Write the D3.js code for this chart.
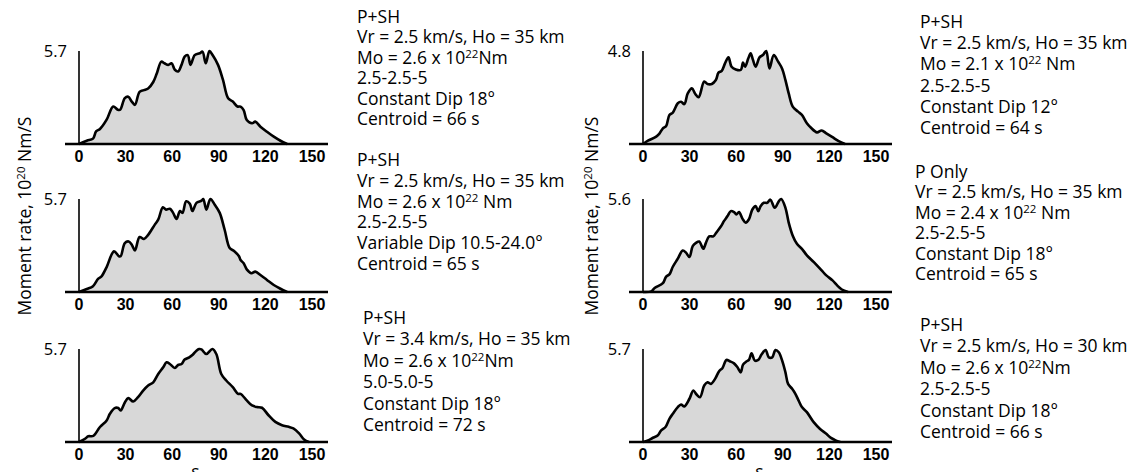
<!DOCTYPE html>
<html>
<head>
<meta charset="utf-8">
<script src="https://cdn.jsdelivr.net/npm/d3@7"></script>
<style>
  body { margin: 0; background: #fff; }
  svg { display: block; }
  .tick-label { font-family: "Liberation Sans", Arial, sans-serif; font-weight: bold; font-size: 16px; }
  .caption { font-family: "Open Sans", "Noto Sans", sans-serif; font-size: 17.5px; }
  .peak { font-family: "Open Sans", "Noto Sans", sans-serif; font-size: 16.5px; }
  .ylab { font-family: "Open Sans", "Noto Sans", sans-serif; font-size: 17.5px; }
</style>
</head>
<body>
<div id="chart"></div>
<script>
var canvas_width = 1134,
    canvas_height = 472;

// x ticks (seconds)
var xTicks = [0, 30, 60, 90, 120, 150];

// y maxima shown at the top of each axis
var peakLabels = ["5.7", "5.7", "5.7", "4.8", "5.6", "5.7"];
var peakValues = [5.7, 5.7, 5.7, 4.8, 5.6, 5.7];

// moment rate curves, [time s, rate 10^20 Nm/s]
var rate1 = [[0,0],[5,0.2],[9,0.33],[11,0.77],[13.5,0.92],[17.8,1.49],[22,2.3],[25,2.1],[26.5,2.1],[29.5,2.81],[31.7,2.9],[34,2.6],[36,2.4],[39,3.2],[41.8,3.3],[44.5,3.4],[47.8,3.8],[50,4.3],[53,5.05],[55,4.95],[57.5,4.85],[59.6,4.95],[61.7,4.55],[63.8,4.45],[66,4.85],[68,5.35],[70,5.45],[71.8,4.85],[74.5,5.45],[77.7,5.56],[79.5,5.66],[81.6,4.95],[84,5.7],[86,5.45],[89.5,4.85],[92.7,3.93],[96,2.8],[99,2.6],[102,2.3],[104,2.29],[106,2.08],[108,1.47],[111.4,1.27],[113.5,1.37],[116.8,1.06],[121,0.75],[125.4,0.45],[129.7,0.2],[134,0]];
var rate2 = [[0,0],[5,0.18],[9,0.35],[12.4,0.82],[14.5,0.96],[17.8,1.53],[22.5,2.49],[25.7,2.19],[26.8,2.19],[29.5,3.0],[32,3.1],[34,2.9],[36,2.55],[39,3.37],[41.8,3.25],[44.5,3.5],[48.8,4.13],[51,4.43],[54,5.19],[56,5.05],[58.5,5.1],[60.6,4.85],[62.8,4.47],[65,4.96],[66.6,4.85],[69,5.56],[71.4,5.4],[73,4.96],[75.6,5.46],[78.9,5.6],[80,5.7],[82,5.05],[84.6,5.7],[87.4,5.35],[90.6,4.85],[93.8,3.8],[97,2.7],[100,2.5],[103,2.19],[104,1.96],[106,1.76],[108,1.39],[111,1.15],[113.5,1.25],[116.8,1.04],[121,0.74],[125.4,0.43],[129.7,0.2],[134,0]];
var rate3 = [[0,0],[3.9,0.2],[6,0.35],[9.2,0.37],[13.5,0.92],[17.8,1.32],[19.9,1.73],[23,2.08],[25.3,2.08],[26.8,1.93],[29.6,2.44],[31.7,2.69],[34.9,2.48],[38,2.75],[41.3,3.15],[44.5,3.46],[47.8,3.66],[51,4.17],[54.2,4.58],[56.4,4.89],[58.5,4.78],[61.7,4.54],[63.8,4.72],[66,4.78],[68,5.05],[71,5.19],[73,5.33],[75.6,5.6],[77.3,5.7],[78.8,5.68],[82,5.39],[85.9,5.7],[88.4,5.39],[91.6,4.17],[94.8,3.77],[99,3.36],[102.4,2.95],[104,2.95],[108,2.55],[111.4,2.24],[114.6,2.14],[117.8,2.1],[122,1.64],[126.4,1.23],[130.7,1.03],[135,0.93],[138,0.83],[141.7,0.53],[144.9,0.16],[148,0]];
var rate4 = [[0,0],[3.2,0.17],[8.5,0.38],[10.7,0.55],[12.8,0.81],[14.9,0.93],[17,1.5],[19.2,1.62],[22.4,2.1],[24.5,2.18],[26.6,2.06],[28.8,2.61],[31.5,2.87],[33.7,2.58],[35.8,2.41],[39.4,3.22],[41.5,3.1],[44.3,3.1],[46.9,3.3],[48.6,3.68],[50.7,3.78],[52.8,4.16],[55,4.47],[57,3.99],[59.7,3.85],[62.9,3.82],[64.4,4.2],[65.7,3.99],[67.8,4.42],[69.3,4.68],[70.8,4.34],[72.5,3.99],[75,4.47],[77.2,4.59],[79.3,4.8],[81.4,3.9],[84.2,4.59],[87,4.25],[89.5,3.9],[91.7,3.3],[93.8,2.61],[96.4,1.93],[99.8,1.67],[102.3,1.5],[105.5,1.07],[108,0.85],[112,0.6],[115,0.7],[118,0.55],[122,0.35],[126,0.15],[130,0]];
var rate5 = [[0,0],[5.3,0.04],[7.5,0.24],[12.8,0.53],[14.9,0.93],[17,1.06],[19.2,1.52],[22.4,2.01],[25.6,2.5],[27.7,2.37],[29.9,2.11],[32,2.76],[34.1,2.96],[36.2,3.04],[38.8,2.6],[40.5,2.96],[42.6,3.35],[45.2,3.35],[47.3,3.59],[50.1,3.94],[52.2,4.28],[54.4,4.57],[56.5,4.87],[58.6,4.81],[60.1,4.67],[61.8,4.81],[64,4.42],[66.1,4.18],[68.2,4.38],[70.4,4.97],[72.5,5.17],[74.2,4.87],[75.7,5.17],[77.8,5.37],[79.9,5.37],[82,5.56],[84.8,5.07],[87.4,5.46],[89,5.6],[91.7,5.07],[93.8,4.18],[96.4,3.39],[99.1,2.9],[102.3,2.6],[105.5,2.21],[110,1.8],[115,1.3],[118,1.0],[122,0.7],[125,0.4],[128,0.15],[132,0]];
var rate6 = [[0,0],[3.2,0.1],[6.4,0.26],[9.6,0.41],[11.7,0.71],[14.5,0.92],[17,1.42],[19.2,1.73],[22.4,2.14],[24.5,2.3],[26.6,2.18],[29.9,2.65],[32.4,3.16],[34.5,2.91],[36.7,2.75],[39.4,3.46],[41.5,3.66],[43.7,3.56],[46.4,3.87],[49,4.34],[51.2,4.54],[53.7,5.03],[55.9,4.95],[58.6,4.82],[60.8,4.58],[62.9,4.27],[64.4,4.74],[66.5,4.93],[68.2,5.03],[69.9,5.44],[72,4.99],[74.2,5.03],[76.3,5.36],[78.9,5.64],[81,5.19],[83.2,5.19],[85.3,5.64],[87.4,5.5],[89.6,4.99],[91.7,4.27],[93.4,3.56],[96,3.26],[98.1,2.95],[100.2,2.54],[102.3,2.14],[105.5,1.83],[110,1.2],[114,0.8],[118,0.5],[121,0.25],[124,0.1],[127,0]];

// captions, "^" marks the superscript exponent
var caption1 = ["P+SH", "Vr = 2.5 km/s, Ho = 35 km", "Mo = 2.6 x 10^22^Nm", "2.5-2.5-5", "Constant Dip 18°", "Centroid = 66 s"];
var caption2 = ["P+SH", "Vr = 2.5 km/s, Ho = 35 km", "Mo = 2.6 x 10^22^ Nm", "2.5-2.5-5", "Variable Dip 10.5-24.0°", "Centroid = 65 s"];
var caption3 = ["P+SH", "Vr = 3.4 km/s, Ho = 35 km", "Mo = 2.6 x 10^22^Nm", "5.0-5.0-5", "Constant Dip 18°", "Centroid = 72 s"];
var caption4 = ["P+SH", "Vr = 2.5 km/s, Ho = 35 km", "Mo = 2.1 x 10^22^ Nm", "2.5-2.5-5", "Constant Dip 12°", "Centroid = 64 s"];
var caption5 = ["P Only", "Vr = 2.5 km/s, Ho = 35 km", "Mo = 2.4 x 10^22^ Nm", "2.5-2.5-5", "Constant Dip 18°", "Centroid = 65 s"];
var caption6 = ["P+SH", "Vr = 2.5 km/s, Ho = 30 km", "Mo = 2.6 x 10^22^Nm", "2.5-2.5-5", "Constant Dip 18°", "Centroid = 66 s"];

var yTitle = ["Moment rate, 10", "20", " Nm/S"];
var xTitle = "s";

var svg = d3.select("div#chart")
    .append("svg")
    .attr("width", canvas_width)
    .attr("height", canvas_height);

// layout
var columns = [
    { x0: 79, textX: [357, 357, 363], titleX: 31 },
    { x0: 643, textX: [920, 915, 920], titleX: 598 }
];
var baselines = [144, 292, 442];
// first caption baseline and line spacing per block
var textTops = [[23, 166, 324], [28, 178, 331]];
var lineGaps = [[20.4, 20.8, 21.4], [21.2, 20.4, 21.4]];
var panelHeight = 93;
var axisWidth = 233;

var panels = [
    { col: 0, row: 0, data: rate1, caption: caption1 },
    { col: 0, row: 1, data: rate2, caption: caption2 },
    { col: 0, row: 2, data: rate3, caption: caption3 },
    { col: 1, row: 0, data: rate4, caption: caption4 },
    { col: 1, row: 1, data: rate5, caption: caption5 },
    { col: 1, row: 2, data: rate6, caption: caption6 }
];

panels.forEach(function (p, i) {
    var col = columns[p.col];
    var base = baselines[p.row];

    var xScale = d3.scaleLinear()
        .domain([0, 150])
        .range([col.x0, col.x0 + axisWidth]);

    var yScale = d3.scaleLinear()
        .domain([0, peakValues[i]])
        .range([base, base - panelHeight]);

    var g = svg.append("g");

    var area = d3.area()
        .curve(d3.curveCatmullRom)
        .x(d => xScale(d[0]))
        .y0(base)
        .y1(d => yScale(d[1]));

    var line = d3.line()
        .curve(d3.curveCatmullRom)
        .x(d => xScale(d[0]))
        .y(d => yScale(d[1]));

    g.append("path")
        .datum(p.data)
        .attr("fill", "#d8d8d8")
        .attr("d", area);

    // y axis
    g.append("line")
        .attr("x1", xScale(0)).attr("x2", xScale(0))
        .attr("y1", base).attr("y2", yScale(peakValues[i]))
        .attr("stroke", "#000")
        .attr("stroke-width", 1.6);

    // x axis
    g.append("line")
        .attr("x1", xScale(0) - 14).attr("x2", xScale(150) + 16)
        .attr("y1", base).attr("y2", base)
        .attr("stroke", "#000")
        .attr("stroke-width", 2.5);

    g.append("path")
        .datum(p.data)
        .attr("fill", "none")
        .attr("stroke", "#000")
        .attr("stroke-width", 2.6)
        .attr("stroke-linejoin", "round")
        .attr("d", line);

    g.selectAll(".tick-label")
        .data(xTicks)
        .enter()
        .append("text")
        .attr("class", "tick-label")
        .attr("x", d => xScale(d))
        .attr("y", base + 18)
        .attr("text-anchor", "middle")
        .text(d => d);

    g.append("text")
        .attr("class", "peak")
        .attr("x", xScale(0) - 12)
        .attr("y", yScale(peakValues[i]) + 6)
        .attr("text-anchor", "end")
        .text(peakLabels[i]);

    // caption block
    var tx = col.textX[p.row];
    var ty = textTops[p.col][p.row];
    var gap = lineGaps[p.col][p.row];
    p.caption.forEach(function (str, k) {
        var t = g.append("text")
            .attr("class", "caption")
            .attr("x", tx)
            .attr("y", ty + k * gap);
        var parts = str.split("^");
        t.append("tspan").text(parts[0]);
        if (parts.length > 1) {
            t.append("tspan").attr("dy", -6).attr("font-size", "11.5px").text(parts[1]);
            t.append("tspan").attr("dy", 6).text(parts[2]);
        }
    });
});

// y axis titles and x axis titles
columns.forEach(function (col) {
    var t = svg.append("text")
        .attr("class", "ylab")
        .attr("text-anchor", "middle")
        .attr("transform", "translate(" + col.titleX + "," + 216 + ") rotate(-90)");
    t.append("tspan").text(yTitle[0]);
    t.append("tspan").attr("dy", -6).attr("font-size", "11.5px").text(yTitle[1]);
    t.append("tspan").attr("dy", 6).text(yTitle[2]);

    svg.append("text")
        .attr("class", "ylab")
        .attr("x", col.x0 + axisWidth / 2)
        .attr("y", 478)
        .attr("text-anchor", "middle")
        .text(xTitle);
});
</script>
</body>
</html>
